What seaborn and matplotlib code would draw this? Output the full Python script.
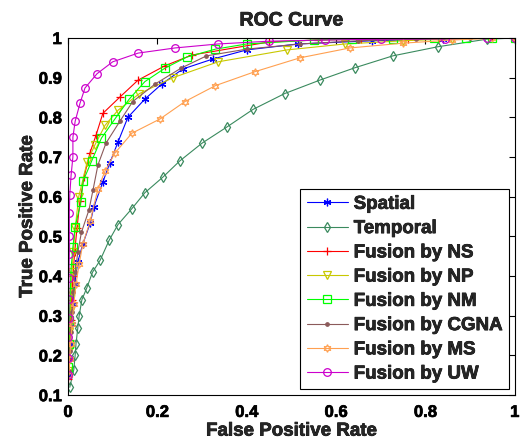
import numpy as np
import pandas as pd
import matplotlib
matplotlib.use("Agg")
import matplotlib.pyplot as plt
import matplotlib.patheffects as pe
import seaborn as sns
from matplotlib.ticker import FormatStrFormatter

# ROC points
spatial_fpr = [0.002, 0.004, 0.006, 0.008, 0.011, 0.015, 0.022, 0.033, 0.05, 0.058, 0.078, 0.094, 0.112, 0.134, 0.172, 0.21, 0.257, 0.324, 0.40, 0.515, 0.68, 0.84, 1.0]
spatial_tpr = [0.15, 0.19, 0.23, 0.28, 0.33, 0.38, 0.436, 0.48, 0.535, 0.575, 0.637, 0.686, 0.738, 0.80, 0.846, 0.884, 0.922, 0.947, 0.97, 0.985, 0.993, 0.998, 1.0]

temporal_fpr = [0.004, 0.013, 0.016, 0.018, 0.022, 0.025, 0.031, 0.042, 0.055, 0.072, 0.092, 0.112, 0.143, 0.172, 0.213, 0.25, 0.30, 0.356, 0.414, 0.485, 0.564, 0.642, 0.727, 0.828, 0.937, 1.0]
temporal_tpr = [0.12, 0.164, 0.20, 0.23, 0.27, 0.30, 0.34, 0.37, 0.41, 0.44, 0.49, 0.53, 0.57, 0.61, 0.65, 0.69, 0.735, 0.776, 0.82, 0.86, 0.894, 0.925, 0.955, 0.978, 0.997, 1.0]

ns_fpr = [0.001, 0.002, 0.004, 0.006, 0.008, 0.011, 0.015, 0.02, 0.027, 0.036, 0.049, 0.063, 0.078, 0.116, 0.157, 0.217, 0.277, 0.45, 0.56, 0.655, 0.76, 0.83, 0.95, 1.0]
ns_tpr = [0.14, 0.19, 0.24, 0.29, 0.34, 0.40, 0.46, 0.52, 0.59, 0.65, 0.71, 0.756, 0.81, 0.851, 0.894, 0.93, 0.957, 0.99, 0.995, 0.997, 0.998, 0.999, 1.0, 1.0]

np_fpr = [0.001, 0.002, 0.003, 0.005, 0.007, 0.009, 0.012, 0.016, 0.024, 0.043, 0.06, 0.083, 0.112, 0.16, 0.235, 0.336, 0.49, 0.62, 0.75, 0.86, 1.0]
np_tpr = [0.16, 0.21, 0.26, 0.31, 0.36, 0.41, 0.46, 0.52, 0.60, 0.688, 0.73, 0.78, 0.818, 0.86, 0.90, 0.94, 0.97, 0.985, 0.993, 0.998, 1.0]

nm_fpr = [0.001, 0.002, 0.003, 0.005, 0.007, 0.011, 0.016, 0.029, 0.034, 0.053, 0.075, 0.105, 0.137, 0.172, 0.217, 0.266, 0.33, 0.40, 0.55, 0.635, 0.727, 0.82, 0.89, 0.95, 1.0]
nm_tpr = [0.17, 0.23, 0.29, 0.36, 0.42, 0.473, 0.524, 0.587, 0.64, 0.69, 0.748, 0.796, 0.846, 0.89, 0.924, 0.952, 0.972, 0.985, 0.995, 0.997, 0.998, 0.999, 1.0, 1.0, 1.0]

cgna_fpr = [0.002, 0.004, 0.006, 0.009, 0.012, 0.016, 0.022, 0.03, 0.047, 0.056, 0.067, 0.085, 0.116, 0.145, 0.195, 0.253, 0.31, 0.40, 0.52, 0.65, 0.78, 0.90, 1.0]
cgna_tpr = [0.16, 0.21, 0.26, 0.31, 0.36, 0.41, 0.46, 0.51, 0.567, 0.617, 0.68, 0.735, 0.79, 0.84, 0.884, 0.924, 0.955, 0.972, 0.985, 0.993, 0.997, 0.999, 1.0]

ms_fpr = [0.002, 0.004, 0.006, 0.009, 0.013, 0.018, 0.025, 0.033, 0.05, 0.067, 0.083, 0.105, 0.143, 0.206, 0.262, 0.33, 0.418, 0.519, 0.631, 0.75, 0.86, 0.95, 1.0]
ms_tpr = [0.15, 0.19, 0.23, 0.28, 0.33, 0.38, 0.43, 0.48, 0.54, 0.62, 0.665, 0.71, 0.76, 0.796, 0.84, 0.88, 0.915, 0.95, 0.975, 0.987, 0.995, 0.999, 1.0]

uw_fpr = [0.0, 0.001, 0.001, 0.002, 0.002, 0.002, 0.003, 0.003, 0.003, 0.004, 0.007, 0.011, 0.011, 0.016, 0.027, 0.038, 0.065, 0.10, 0.157, 0.24, 0.336, 0.45, 0.575, 0.70, 0.843, 0.937, 1.0]
uw_tpr = [0.15, 0.194, 0.247, 0.295, 0.343, 0.395, 0.455, 0.50, 0.56, 0.605, 0.655, 0.70, 0.75, 0.79, 0.836, 0.874, 0.91, 0.94, 0.962, 0.975, 0.985, 0.992, 0.995, 0.997, 0.998, 1.0, 1.0]

series = [
    ("Spatial", spatial_fpr, spatial_tpr, "#0000FF", (6, 2, 0), True),
    ("Temporal", temporal_fpr, temporal_tpr, "#3A8A5E", "d", False),
    ("Fusion by NS", ns_fpr, ns_tpr, "#FF0000", "+", True),
    ("Fusion by NP", np_fpr, np_tpr, "#C8C800", "v", False),
    ("Fusion by NM", nm_fpr, nm_tpr, "#00FF00", "s", False),
    ("Fusion by CGNA", cgna_fpr, cgna_tpr, "#8B5A5A", ".", True),
    ("Fusion by MS", ms_fpr, ms_tpr, "#FFA050", (6, 1, 0), False),
    ("Fusion by UW", uw_fpr, uw_tpr, "#CC00CC", "o", False),
]

sns.set_style("white")
plt.rcParams['font.family'] = ['Liberation Sans', 'DejaVu Sans']
plt.rcParams['font.weight'] = 'bold'

fig = plt.figure(figsize=(5.21, 4.42), dpi=100)
ax = fig.add_axes([0.1305, 0.106, 0.8575, 0.808])

for name, fpr, tpr, col, mk, filled in series:
    df = pd.DataFrame({"fpr": fpr, "tpr": tpr})
    sns.lineplot(data=df, x="fpr", y="tpr", ax=ax, sort=False, estimator=None,
                 color=col, lw=0.8, marker=mk, markersize=5.5 if mk != "." else 5,
                 markerfacecolor=col if filled else "none",
                 markeredgecolor=col, markeredgewidth=0.9, label=name)

ax.set_xlim(0, 1)
ax.set_ylim(0.1, 1)
ax.set_xticks(np.arange(0, 1.01, 0.2))
ax.set_yticks(np.arange(0.1, 1.01, 0.1))
ax.xaxis.set_major_formatter(FormatStrFormatter('%g'))
ax.yaxis.set_major_formatter(FormatStrFormatter('%g'))
ax.tick_params(direction='in', length=4, width=0.8, top=True, right=True,
               labelsize=12, colors='black')
ax.tick_params(axis='x', pad=7)
ax.tick_params(axis='y', pad=4.5)
for sp in ax.spines.values():
    sp.set_color('black')
    sp.set_linewidth(0.8)

ax.set_xlabel("False Positive Rate", fontsize=13.5, fontweight='bold', labelpad=2)
ax.set_ylabel("True Positive Rate", fontsize=13.5, fontweight='bold', labelpad=2)
ax.set_title("ROC Curve", fontsize=14, fontweight='bold', pad=9)

leg = ax.legend(loc='lower right', frameon=True, fancybox=False,
                edgecolor='black', framealpha=1, handlelength=2.2, handletextpad=0.3,
                borderaxespad=0.32, labelspacing=0.38, borderpad=0.35,
                prop={'weight': 'bold', 'size': 13.5})
leg.get_frame().set_linewidth(0.8)

# heavier text, like the screen-rendered original
heavy = [pe.withStroke(linewidth=0.5, foreground='black')]
texts = [ax.title, ax.xaxis.label, ax.yaxis.label] + leg.get_texts()
texts += ax.get_xticklabels() + ax.get_yticklabels()
for t in texts:
    t.set_path_effects(heavy)

fig.savefig("out.png", dpi=100)
